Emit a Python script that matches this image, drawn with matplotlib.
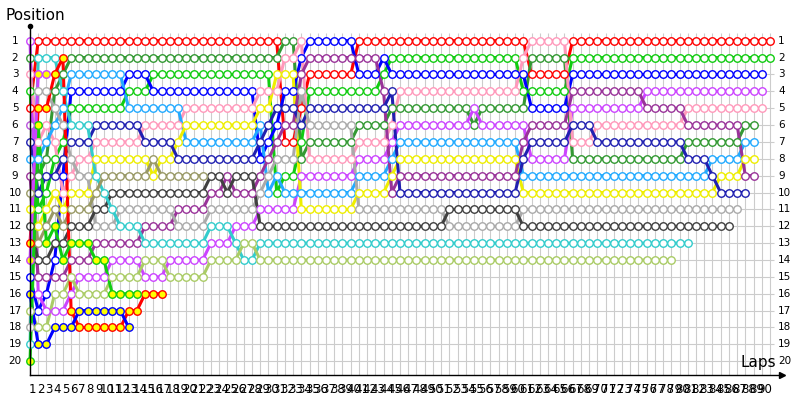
import matplotlib
matplotlib.use("Agg")
import matplotlib.pyplot as plt

# lap chart: positions per driver as runs of (position, number of laps), from lap 0
red_runs = [(5, 1), (1, 30), (7, 2), (5, 1), (3, 6), (1, 21), (3, 5), (1, 25)]
lime_runs = [(4, 1), (11, 1), (10, 1), (8, 1), (7, 1), (5, 7), (4, 3), (3, 15), (10, 1), (9, 2),
             (7, 1), (4, 9), (3, 1), (2, 16), (4, 6), (2, 25)]
dkgreen_runs = [(2, 1), (9, 1), (8, 1), (4, 1), (3, 1), (2, 26), (1, 2), (8, 1), (7, 6), (6, 4),
                (5, 10), (6, 1), (5, 6), (2, 5), (8, 14), (7, 7), (6, 2)]
blue_runs = [(15, 1), (17, 1), (16, 1), (14, 1), (9, 1), (4, 7), (3, 3), (4, 13), (8, 1), (7, 1),
             (6, 1), (4, 2), (2, 1), (1, 6), (3, 3), (2, 1), (3, 17), (5, 5), (3, 24)]
violet_runs = [(1, 1), (16, 1), (17, 3), (16, 1), (15, 4), (14, 4), (15, 3), (14, 5), (13, 3),
               (12, 3), (11, 5), (9, 7), (8, 4), (7, 1), (6, 9), (5, 1), (6, 6), (8, 5), (5, 9), (4, 15)]
pink_runs = [(3, 1), (7, 1), (6, 1), (7, 1), (10, 1), (9, 1), (8, 2), (7, 6), (6, 5), (5, 9),
             (4, 3), (2, 2), (1, 1), (8, 6), (7, 4), (6, 1), (4, 15), (2, 1), (1, 5), (7, 3), (6, 11), (5, 10)]
ltblue_runs = [(8, 2), (7, 1), (6, 1), (5, 1), (3, 7), (5, 7), (7, 9), (6, 1), (10, 1), (9, 1),
               (10, 9), (9, 4), (8, 1), (7, 15), (9, 23), (8, 4), (7, 2)]
yellow_runs = [(11, 1), (12, 1), (11, 1), (10, 1), (11, 1), (10, 3), (8, 7), (9, 1), (8, 2), (7, 1),
               (6, 9), (5, 2), (3, 3), (11, 7), (10, 4), (9, 1), (8, 15), (10, 24), (9, 3), (8, 2)]
purple_runs = [(9, 1), (15, 4), (14, 3), (13, 6), (12, 4), (11, 4), (10, 2), (9, 1), (10, 3), (9, 1),
               (8, 1), (7, 1), (6, 2), (3, 1), (2, 9), (4, 1), (10, 1), (9, 15), (7, 1), (6, 5),
               (4, 9), (5, 5), (6, 7), (9, 2)]
navy_runs = [(7, 1), (10, 1), (9, 2), (8, 1), (7, 3), (6, 6), (7, 4), (8, 10), (7, 1), (6, 1),
             (5, 3), (6, 1), (5, 10), (4, 1), (10, 15), (8, 1), (7, 5), (6, 3), (7, 11), (8, 3), (9, 1), (10, 4)]
gray_runs = [(18, 1), (4, 2), (5, 1), (6, 1), (8, 1), (9, 2), (12, 3), (11, 7), (12, 4), (11, 6),
             (10, 1), (9, 1), (8, 3), (4, 1), (6, 6), (11, 11), (12, 9), (11, 27)]
dkgray_runs = [(12, 1), (14, 2), (13, 2), (12, 3), (11, 2), (10, 12), (9, 2), (10, 1), (9, 3),
               (12, 23), (11, 9), (12, 26)]
cyan_runs = [(19, 1), (2, 3), (4, 1), (6, 3), (9, 1), (10, 1), (11, 1), (12, 3), (13, 8), (12, 3),
             (13, 1), (14, 2), (13, 53)]
ygreen_runs = [(17, 1), (18, 2), (16, 2), (15, 1), (16, 4), (15, 4), (14, 3), (15, 5), (14, 4),
               (13, 2), (14, 51)]
olive_runs = [(10, 1), (13, 1), (12, 1), (11, 1), (12, 1), (11, 3), (10, 1), (9, 6), (8, 1), (9, 6)]
redy_runs = [(13, 1), (5, 2), (3, 1), (2, 1), (17, 1), (18, 6), (17, 2), (16, 3)]
bluey_runs = [(16, 1), (19, 2), (18, 3), (17, 6), (18, 1)]
greeny_runs = [(20, 1), (6, 1), (13, 1), (12, 1), (14, 1), (13, 3), (14, 2), (16, 4)]
violety_runs = [(14, 1), (3, 2)]
mag_runs = [(6, 1)]

drivers = [
    ("#ff0000", "white", red_runs),
    ("#11cc11", "white", lime_runs),
    ("#339933", "white", dkgreen_runs),
    ("#0000ff", "white", blue_runs),
    ("#cc44ff", "white", violet_runs),
    ("#ff99bb", "white", pink_runs),
    ("#22aaff", "white", ltblue_runs),
    ("#eeee00", "white", yellow_runs),
    ("#993399", "white", purple_runs),
    ("#2020b0", "white", navy_runs),
    ("#aaaaaa", "white", gray_runs),
    ("#404040", "white", dkgray_runs),
    ("#33cccc", "white", cyan_runs),
    ("#aacc66", "white", ygreen_runs),
    ("#999966", "white", olive_runs),
    ("#ff0000", "#ffff00", redy_runs),
    ("#0000ff", "#ffff00", bluey_runs),
    ("#11cc11", "#ffff00", greeny_runs),
    ("#cc44ff", "#ffff00", violety_runs),
    ("#bb55dd", "white", mag_runs),
]

n_laps = 90
n_pos = 20

fig = plt.figure(figsize=(8, 4), dpi=100)
ax = fig.add_axes([0, 0, 1, 1])
ax.set_xlim(-3.649, 93.65)
ax.set_ylim(22.298, -1.4126)
ax.axis("off")

# grid
ax.vlines(range(0, n_laps + 1), 0.55, 20.82, color="#cccccc", lw=0.8, zorder=1)
ax.hlines(range(1, n_pos + 1), 0, 90.5, color="#cccccc", lw=0.8, zorder=1)

# axes with arrows
ax.plot([0, 0], [20.82, 0.1], color="black", lw=1.0, zorder=5, clip_on=False)
ax.plot([0], [0.1], marker="o", ms=3, color="black", zorder=5)
ax.plot([0, 91.4], [20.82, 20.82], color="black", lw=1.0, zorder=5, clip_on=False)
ax.plot([91.4], [20.82], marker=">", ms=5, color="black", zorder=5)

for edge, fill, runs in drivers:
    pos = []
    for p, n in runs:
        pos += [p] * n
    laps = list(range(len(pos)))
    ax.plot(laps, pos, color=edge, lw=2.2, zorder=2, solid_capstyle="round")
    ax.plot(laps, pos, ls="none", marker="o", ms=5.4, mew=1.0,
            mec=edge, mfc=fill, zorder=3)

for r in range(1, n_pos + 1):
    ax.text(-1.82, r, str(r), ha="center", va="center", fontsize=7.5)
    ax.text(90.98, r, str(r), ha="left", va="center", fontsize=7.5)

for i in range(n_laps):
    ax.text(i + 0.35, 21.65, str(i + 1), ha="center", va="center", fontsize=8.5)

ax.text(-3.0, -0.52, "Position", ha="left", va="center", fontsize=11)
ax.text(90.7, 20.1, "Laps", ha="right", va="center", fontsize=11)

fig.savefig("out.png", dpi=100)
